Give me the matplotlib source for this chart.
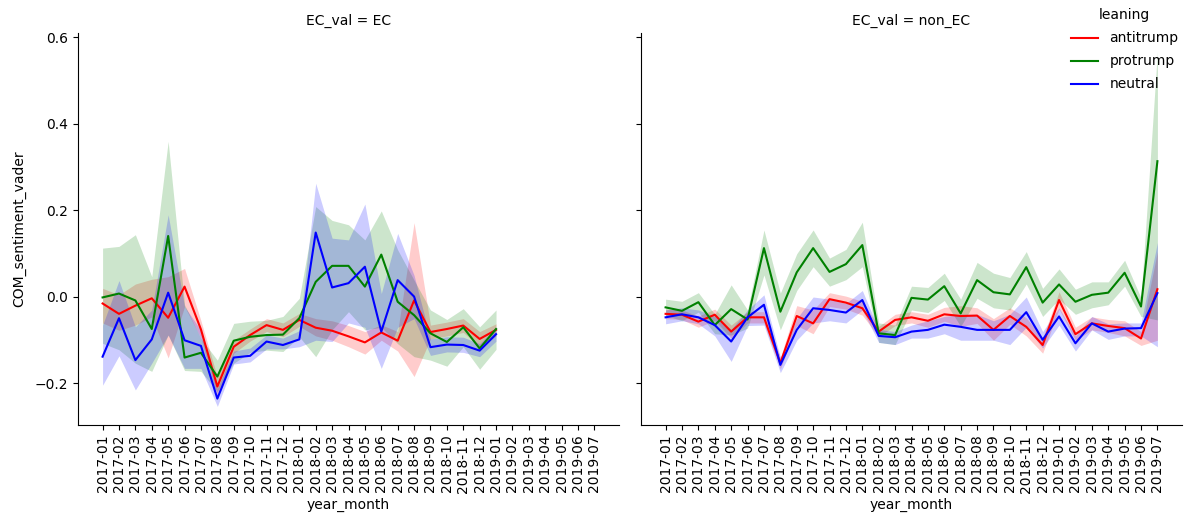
import matplotlib
matplotlib.use("Agg")
import matplotlib.pyplot as plt

months = ["2017-01", "2017-02", "2017-03", "2017-04", "2017-05", "2017-06", "2017-07", "2017-08",
          "2017-09", "2017-10", "2017-11", "2017-12", "2018-01", "2018-02", "2018-03", "2018-04",
          "2018-05", "2018-06", "2018-07", "2018-08", "2018-09", "2018-10", "2018-11", "2018-12",
          "2019-01", "2019-02", "2019-03", "2019-04", "2019-05", "2019-06", "2019-07"]
leanings = ["antitrump", "protrump", "neutral"]
colors = {"antitrump": "red", "protrump": "green", "neutral": "blue"}

# ---- EC panel (2017-01 .. 2019-01) ----
red_ec = [-0.015, -0.039, -0.020, -0.003, -0.048, 0.024, -0.075, -0.207, -0.115, -0.088, -0.065, -0.076, -0.053,
          -0.071, -0.078, -0.091, -0.105, -0.082, -0.101, -0.008, -0.081, -0.074, -0.066, -0.097, -0.076]
red_ec_lo = [-0.060, -0.077, -0.065, -0.046, -0.141, -0.022, -0.095, -0.230, -0.130, -0.102, -0.080, -0.092, -0.068,
             -0.090, -0.100, -0.115, -0.132, -0.100, -0.125, -0.184, -0.097, -0.090, -0.082, -0.115, -0.090]
red_ec_hi = [0.020, 0.005, 0.030, 0.041, 0.047, 0.066, -0.055, -0.185, -0.100, -0.074, -0.050, -0.060, -0.038,
             -0.050, -0.055, -0.066, -0.080, -0.064, -0.080, 0.172, -0.065, -0.058, -0.050, -0.080, -0.062]

green_ec = [-0.001, 0.008, -0.008, -0.074, 0.141, -0.140, -0.129, -0.184, -0.101, -0.092, -0.088, -0.087, -0.049,
            0.035, 0.072, 0.072, 0.024, 0.098, -0.011, -0.042, -0.084, -0.104, -0.070, -0.119, -0.074]
green_ec_lo = [-0.107, -0.122, -0.153, -0.172, -0.088, -0.170, -0.172, -0.219, -0.153, -0.128, -0.123, -0.126, -0.092,
               -0.138, -0.076, -0.034, -0.076, -0.070, -0.108, -0.138, -0.146, -0.160, -0.115, -0.167, -0.121]
green_ec_hi = [0.113, 0.117, 0.144, 0.047, 0.360, -0.018, -0.096, -0.146, -0.061, -0.056, -0.054, -0.045, -0.003,
               0.209, 0.177, 0.167, 0.132, 0.199, 0.109, 0.039, -0.030, -0.052, -0.027, -0.069, -0.030]

blue_ec = [-0.138, -0.049, -0.146, -0.098, 0.010, -0.100, -0.113, -0.235, -0.140, -0.136, -0.103, -0.111, -0.098,
           0.149, 0.022, 0.032, 0.070, -0.080, 0.039, 0.001, -0.116, -0.110, -0.111, -0.124, -0.086]
blue_ec_lo = [-0.204, -0.136, -0.215, -0.153, -0.088, -0.165, -0.165, -0.253, -0.155, -0.150, -0.120, -0.120, -0.115,
              -0.100, -0.103, -0.060, -0.070, -0.165, -0.070, -0.050, -0.135, -0.127, -0.128, -0.138, -0.102]
blue_ec_hi = [-0.065, 0.038, -0.069, -0.030, 0.190, -0.022, -0.077, -0.211, -0.125, -0.118, -0.088, -0.095, -0.078,
              0.263, 0.136, 0.132, 0.215, 0.008, 0.147, 0.050, -0.097, -0.092, -0.093, -0.108, -0.070]

# ---- non_EC panel (2017-01 .. 2019-07) ----
red_non = [-0.039, -0.041, -0.057, -0.041, -0.080, -0.047, -0.047, -0.153, -0.044, -0.061, -0.005, -0.013, -0.026,
           -0.080, -0.053, -0.047, -0.055, -0.040, -0.044, -0.043, -0.076, -0.044, -0.069, -0.111, -0.007, -0.086,
           -0.061, -0.067, -0.072, -0.096, 0.018]
red_non_lo = [-0.050, -0.052, -0.070, -0.054, -0.095, -0.060, -0.060, -0.166, -0.066, -0.085, -0.022, -0.028, -0.042,
              -0.092, -0.066, -0.060, -0.070, -0.056, -0.068, -0.061, -0.100, -0.063, -0.090, -0.130, -0.028, -0.100,
              -0.076, -0.082, -0.090, -0.112, -0.100]
red_non_hi = [-0.028, -0.030, -0.044, -0.028, -0.065, -0.034, -0.034, -0.140, -0.020, -0.030, 0.010, 0.002, -0.010,
              -0.068, -0.040, -0.034, -0.040, -0.024, -0.020, -0.025, -0.050, -0.025, -0.048, -0.095, 0.012, -0.070,
              -0.046, -0.052, -0.055, -0.080, 0.105]

green_non = [-0.024, -0.032, -0.012, -0.065, -0.028, -0.052, 0.113, -0.034, 0.057, 0.113, 0.058, 0.076, 0.120,
             -0.084, -0.088, -0.002, -0.006, 0.025, -0.038, 0.039, 0.011, 0.006, 0.069, -0.013, 0.029, -0.011,
             0.005, 0.010, 0.056, -0.022, 0.314]
green_non_lo = [-0.042, -0.055, -0.035, -0.085, -0.088, -0.072, 0.051, -0.076, 0.015, 0.070, 0.025, 0.040, 0.070,
                -0.105, -0.110, -0.030, -0.036, -0.008, -0.068, -0.003, -0.025, -0.030, 0.030, -0.045, -0.005, -0.040,
                -0.025, -0.018, 0.025, -0.045, -0.053]
green_non_hi = [-0.005, -0.010, 0.010, -0.040, 0.028, -0.030, 0.155, 0.009, 0.100, 0.155, 0.090, 0.110, 0.173,
                -0.060, -0.065, 0.025, 0.022, 0.055, -0.005, 0.080, 0.055, 0.045, 0.105, 0.020, 0.065, 0.018,
                0.035, 0.035, 0.085, -0.002, 0.567]

blue_non = [-0.047, -0.040, -0.047, -0.065, -0.103, -0.047, -0.018, -0.157, -0.076, -0.026, -0.030, -0.036, -0.007,
            -0.090, -0.093, -0.080, -0.076, -0.064, -0.069, -0.076, -0.076, -0.076, -0.035, -0.099, -0.045, -0.107,
            -0.061, -0.080, -0.073, -0.072, 0.009]
blue_non_lo = [-0.062, -0.055, -0.062, -0.090, -0.149, -0.066, -0.065, -0.175, -0.100, -0.060, -0.055, -0.060, -0.030,
               -0.105, -0.110, -0.095, -0.095, -0.085, -0.100, -0.100, -0.100, -0.110, -0.070, -0.118, -0.065, -0.125,
               -0.076, -0.098, -0.090, -0.090, -0.115]
blue_non_hi = [-0.030, -0.025, -0.030, -0.045, -0.075, -0.030, 0.005, -0.140, -0.050, 0.000, -0.005, -0.015, 0.015,
               -0.075, -0.080, -0.065, -0.055, -0.045, -0.040, -0.040, -0.055, -0.040, 0.000, -0.080, -0.025, -0.090,
               -0.045, -0.062, -0.060, -0.060, 0.126]

panels = [
    ("EC_val = EC", {"antitrump": (red_ec, red_ec_lo, red_ec_hi),
                     "protrump": (green_ec, green_ec_lo, green_ec_hi),
                     "neutral": (blue_ec, blue_ec_lo, blue_ec_hi)}),
    ("EC_val = non_EC", {"antitrump": (red_non, red_non_lo, red_non_hi),
                         "protrump": (green_non, green_non_lo, green_non_hi),
                         "neutral": (blue_non, blue_non_lo, blue_non_hi)}),
]

fig = plt.figure(figsize=(11.9, 5.18), dpi=100)
W = 541 / 1190
axes = [fig.add_axes([78 / 1190, 0.1795, W, 0.7565]),
        fig.add_axes([641 / 1190, 0.1795, W, 0.7565])]

handles = []
for k, (ax, (title, data)) in enumerate(zip(axes, panels)):
    # register all categories on the axis so both panels share the full month axis
    ax.plot(months, [0] * len(months), alpha=0)
    for lean in leanings:
        v, lo, hi = data[lean]
        x = months[:len(v)]
        ax.fill_between(x, lo, hi, color=colors[lean], alpha=0.2, linewidth=0)
        h, = ax.plot(x, v, color=colors[lean], linewidth=1.5, label=lean)
        if k == 0:
            handles.append(h)
    ax.set_xlim(-1.5, 31.5)
    ax.set_ylim(-0.296, 0.61)
    ax.set_yticks([-0.2, 0.0, 0.2, 0.4, 0.6])
    ax.set_title(title, fontsize=10)
    ax.set_xlabel("year_month", fontsize=10)
    ax.tick_params(axis="x", labelrotation=90, labelsize=10)
    ax.tick_params(axis="y", labelsize=10)
    ax.spines["top"].set_visible(False)
    ax.spines["right"].set_visible(False)

axes[0].set_ylabel("COM_sentiment_vader", fontsize=10)
axes[0].yaxis.set_label_coords(-0.095, 0.5)
axes[1].tick_params(axis="y", labelleft=False)

fig.legend(handles=handles, labels=leanings, title="leaning", loc="upper left",
           bbox_to_anchor=(1058 / 1190, 1.008), frameon=False, fontsize=10, title_fontsize=10,
           labelspacing=0.65)

fig.savefig("out.png", dpi=100)
